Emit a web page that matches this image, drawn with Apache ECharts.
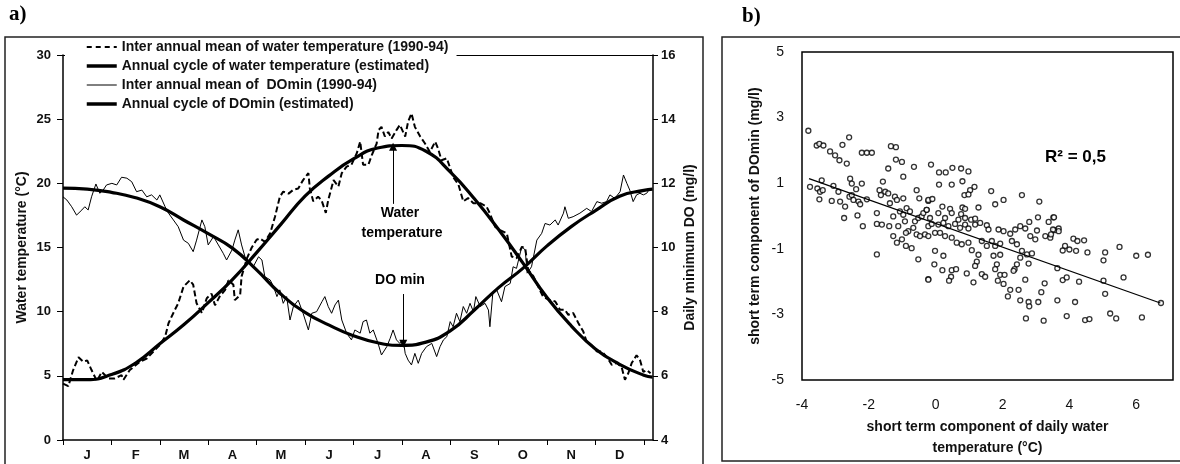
<!DOCTYPE html>
<html>
<head>
<meta charset="utf-8">
<script src="https://cdn.jsdelivr.net/npm/echarts@6/dist/echarts.min.js"></script>
<style>
  html, body { margin: 0; padding: 0; background: #fff; }
  #chart { width: 1180px; height: 464px; }
</style>
</head>
<body>
<div id="chart"></div>
<script>
// month letters, x is measured in months from 1 Jan
const months = ['J', 'F', 'M', 'A', 'M', 'J', 'J', 'A', 'S', 'O', 'N', 'D']
const monthTicks = [0, 1, 2, 3, 4, 5, 6, 7, 8, 9, 10, 11, 12]
const monthMids = [0.5, 1.5, 2.5, 3.5, 4.5, 5.5, 6.5, 7.5, 8.5, 9.5, 10.5, 11.5]

// inter annual mean of water temperature (dashed)
const tempMeanX = [0, 0.11, 0.21, 0.32, 0.42, 0.5, 0.59, 0.7, 0.8, 0.94, 1.07, 1.21, 1.25, 1.38, 1.59, 1.73, 1.87, 2, 2.11, 2.18,
  2.28, 2.38, 2.49, 2.62, 2.69, 2.76, 2.87, 2.97, 3.07, 3.14, 3.24, 3.35, 3.42, 3.52, 3.55, 3.66, 3.69, 3.8, 3.9, 4,
  4.07, 4.17, 4.28, 4.38, 4.48, 4.55, 4.66, 4.76, 4.86, 4.96, 5.07, 5.1, 5.17, 5.27, 5.34, 5.43, 5.48, 5.59, 5.69, 5.76,
  5.86, 5.96, 6.07, 6.14, 6.2, 6.31, 6.38, 6.48, 6.52, 6.58, 6.65, 6.72, 6.79, 6.89, 6.96, 7.07, 7.13, 7.2, 7.27, 7.38,
  7.48, 7.58, 7.69, 7.75, 7.82, 7.93, 8.06, 8.17, 8.27, 8.37, 8.48, 8.62, 8.75, 8.82, 8.93, 9.03, 9.17, 9.27, 9.37, 9.48,
  9.55, 9.61, 9.72, 9.82, 9.92, 10.06, 10.17, 10.27, 10.37, 10.44, 10.54, 10.65, 10.75, 10.82, 10.92, 11.03, 11.13, 11.23, 11.34, 11.44,
  11.54, 11.61, 11.68, 11.75, 11.85, 11.92, 11.99, 12.06, 12.14]
const tempMeanY = [4.4, 4.2, 5.45, 6.45, 6.1, 6.2, 5.45, 4.6, 5.3, 4.8, 4.8, 5.05, 4.7, 5.45, 6.1, 6.35, 6.9, 7.4, 8.05, 9.1,
  9.9, 10.65, 11.95, 12.45, 12.1, 10.65, 9.9, 11.05, 11.4, 10.5, 11.2, 11.7, 12.45, 12.1, 10.9, 11.3, 12.75, 14.15, 15.0, 15.6,
  15.7, 15.45, 16.1, 17.4, 18.95, 19.35, 19.2, 19.5, 19.6, 20.25, 20.8, 19.6, 18.6, 18.95, 18.7, 17.7, 18.7, 20.25, 19.75, 20.8,
  21.3, 21.45, 22.35, 23.25, 21.45, 21.45, 22.2, 23.1, 24.15, 24.4, 23.65, 24.0, 23.5, 24.15, 24.55, 23.65, 24.8, 25.45, 24.4, 23.65,
  23.1, 22.45, 23.25, 22.7, 21.8, 21.95, 20.5, 19.9, 18.6, 18.85, 18.45, 18.45, 18.2, 17.65, 16.6, 16.35, 16.1, 14.3, 14.15, 15.05,
  14.95, 13.25, 12.75, 11.95, 11.15, 10.9, 10.8, 10.15, 10.15, 9.75, 9.9, 9.1, 8.45, 7.65, 7.4, 6.9, 6.9, 6.5, 5.85, 6.0,
  5.7, 4.7, 5.2, 6.0, 6.6, 6.25, 5.3, 5.45, 5.2]

// inter annual mean of DOmin (thin)
const doMeanX = [0, 0.08, 0.18, 0.28, 0.39, 0.45, 0.52, 0.59, 0.68, 0.76, 0.83, 0.9, 1.01, 1.11, 1.21, 1.32, 1.42, 1.52, 1.63, 1.73,
  1.83, 1.94, 2, 2.11, 2.18, 2.28, 2.38, 2.49, 2.59, 2.69, 2.76, 2.87, 2.93, 3, 3.11, 3.21, 3.31, 3.38, 3.49, 3.55,
  3.62, 3.69, 3.76, 3.86, 3.93, 4.04, 4.11, 4.17, 4.28, 4.35, 4.42, 4.48, 4.55, 4.62, 4.69, 4.76, 4.86, 4.96, 5.07, 5.14,
  5.24, 5.35, 5.41, 5.48, 5.55, 5.62, 5.69, 5.76, 5.86, 5.96, 6.03, 6.14, 6.2, 6.27, 6.34, 6.41, 6.51, 6.58, 6.69, 6.76,
  6.82, 6.89, 6.96, 7.03, 7.07, 7.13, 7.2, 7.27, 7.34, 7.41, 7.51, 7.62, 7.72, 7.79, 7.86, 7.93, 8, 8.06, 8.13, 8.2,
  8.27, 8.34, 8.41, 8.48, 8.53, 8.62, 8.72, 8.79, 8.82, 8.88, 8.96, 9.06, 9.13, 9.24, 9.3, 9.37, 9.48, 9.55, 9.59, 9.68,
  9.79, 9.89, 9.96, 10.06, 10.17, 10.23, 10.34, 10.37, 10.44, 10.54, 10.68, 10.82, 10.92, 11.03, 11.13, 11.23, 11.3, 11.4, 11.51, 11.58,
  11.65, 11.71, 11.78, 11.85, 11.92, 11.99, 12.06, 12.13]
const doMeanY = [11.58, 11.48, 11.27, 11.01, 11.17, 11.27, 11.17, 11.58, 11.98, 11.69, 11.79, 11.95, 12.0, 11.95, 12.19, 12.16, 12.05, 11.74, 11.79, 11.58,
  11.64, 11.48, 11.64, 11.27, 11.07, 10.86, 10.65, 10.23, 10.13, 9.87, 10.23, 10.86, 10.65, 10.08, 10.34, 10.08, 9.82, 9.61, 9.92, 10.23,
  10.55, 10.08, 9.71, 9.55, 9.4, 9.71, 9.61, 9.09, 8.99, 8.78, 8.47, 8.68, 8.26, 8.47, 7.74, 8.16, 8.36, 7.95, 7.43, 7.95,
  8.0, 8.31, 8.47, 8.16, 7.95, 8.21, 8.36, 7.74, 7.33, 7.12, 7.43, 7.33, 7.69, 7.74, 7.33, 7.43, 7.01, 6.65, 6.91, 7.17,
  7.43, 7.12, 7.01, 7.12, 6.7, 6.49, 6.34, 6.7, 6.39, 6.7, 6.91, 7.01, 6.6, 6.91, 7.12, 7.22, 7.69, 7.53, 7.95, 7.69,
  8.16, 7.95, 8.26, 8.0, 8.47, 8.16, 8.26, 8.05, 7.53, 8.57, 8.68, 8.31, 8.78, 8.88, 9.4, 9.35, 10.03, 9.92, 9.2, 9.4,
  10.23, 10.44, 10.75, 10.7, 10.86, 10.7, 11.07, 11.27, 10.91, 10.96, 11.07, 11.22, 11.12, 11.43, 11.38, 11.43, 11.64, 11.53, 11.74, 12.26,
  12.0, 11.79, 11.43, 11.64, 11.69, 11.64, 11.69, 11.85]

// estimated annual cycles, read every half month
const cycleX = [0, 0.5, 1, 1.5, 2, 2.5, 3, 3.5, 4, 4.5, 5, 5.5, 6, 6.5, 7, 7.5, 8, 8.5, 9, 9.5, 10, 10.5, 11, 11.5, 12, 12.18]
const tempCycleY = [4.7, 4.7, 5.1, 6.0, 7.5, 9.0, 10.7, 12.5, 14.6, 16.8, 19.0, 20.6, 21.9, 22.75, 22.95, 22.5, 20.9, 18.8, 16.4, 13.8, 11.1, 8.9, 7.1, 5.9, 5.05, 4.9]
const doCycleY = [11.85, 11.82, 11.72, 11.55, 11.27, 10.85, 10.43, 9.98, 9.3, 8.55, 7.98, 7.58, 7.25, 7.03, 6.95, 7.05, 7.4, 8.05, 8.75, 9.35, 10.05, 10.65, 11.15, 11.6, 11.78, 11.82]

// arrows of the annotations (month, value)
const tempArrowX = [6.82, 6.82]
const tempArrowY = [18.4, 22.85]
const doArrowX = [7.03, 7.03]
const doArrowY = [8.55, 7.0]

// b) short term components: [water temperature (°C), DOmin (mg/l)]
const shortTerm = [
  [-3.81, 2.6], [-3.56, 2.15], [-3.48, 2.2], [-3.36, 2.15], [-3.16, 1.97], [-3.01, 1.85], [-2.88, 1.7], [-2.79, 2.17], [-2.66, 1.6], [-2.59, 2.4],
  [-2.21, 1.93], [-2.06, 1.93], [-1.91, 1.93], [-1.34, 2.13], [-1.19, 2.1], [-1.19, 1.72], [-1.01, 1.65], [-1.42, 1.45], [-0.65, 1.5], [-0.97, 1.2],
  [-3.76, 0.89], [-3.54, 0.84], [-3.46, 0.74], [-3.38, 0.79], [-3.41, 1.09], [-3.48, 0.51], [-3.11, 0.46], [-3.06, 0.92], [-2.86, 0.44], [-2.91, 0.74],
  [-2.71, 0.29], [-2.58, 0.59], [-2.51, 0.64], [-2.56, 1.14], [-2.51, 0.99], [-2.38, 0.82], [-2.21, 0.99], [-2.46, 0.49], [-2.31, 0.44], [-2.26, 0.36],
  [-2.74, -0.06], [-2.34, 0.02], [-2.18, -0.31], [-2.06, 0.51], [-1.76, 0.09], [-1.76, -0.24], [-1.61, -0.26], [-1.76, -1.17], [-1.58, 1.05], [-1.68, 0.79],
  [-1.51, 0.74], [-1.42, 0.69], [-1.64, 0.64], [-1.22, 0.59], [-1.16, 0.49], [-1.37, 0.39], [-0.97, 0.54], [-0.57, 0.79], [-0.49, 0.54], [-0.22, 0.46],
  [-0.87, 0.24], [-0.77, 0.14], [-1.07, 0.14], [-1.27, -0.01], [-1.12, -0.31], [-1.39, -0.31], [-0.97, 0.04], [-0.92, -0.16], [-0.62, -0.16], [-0.52, -0.06],
  [-0.42, -0.01], [-0.37, 0.09], [-0.27, 0.19], [-0.82, -0.46], [-0.89, -0.51], [-0.67, -0.36], [-0.57, -0.56], [-0.47, -0.61], [-0.32, -0.56], [-0.22, -0.31],
  [-1.27, -0.61], [-1.16, -0.81], [-1.01, -0.71], [-0.89, -0.91], [-0.72, -0.98], [-0.52, -1.32], [-0.22, -1.92],
  [-0.14, 1.57], [0.1, 1.33], [0.3, 1.33], [0.5, 1.47], [0.76, 1.45], [0.98, 1.36], [0.1, 0.96], [0.48, 0.96], [0.8, 1.06], [1.16, 0.89],
  [1.03, 0.79], [0.86, 0.64], [0.98, 0.66], [1.66, 0.76], [2.03, 0.49], [1.78, 0.36], [2.58, 0.64], [3.1, 0.44], [3.06, -0.04], [3.52, -0.04],
  [1.28, 0.26], [-0.22, 0.49], [-0.1, 0.52], [0.2, 0.29], [0.43, 0.22], [0.8, 0.26], [0.88, 0.22], [-0.27, 0.19], [0.08, 0.09], [0.48, 0.09],
  [0.76, 0.06], [0.28, -0.06], [-0.17, -0.06], [0.68, -0.11], [0.88, -0.06], [1.06, -0.11], [1.18, -0.08], [1.33, -0.21],
  [-0.12, -0.24], [0.08, -0.26], [0.23, -0.21], [0.38, -0.31], [0.58, -0.24], [0.73, -0.36], [0.88, -0.26], [0.98, -0.38], [1.18, -0.26], [1.53, -0.28],
  [1.58, -0.41], [1.88, -0.41], [2.03, -0.46], [2.23, -0.54], [2.38, -0.41], [2.53, -0.31], [2.68, -0.38], [2.83, -0.61], [2.98, -0.71], [3.28, -0.61],
  [3.43, -0.66], [-0.22, -0.61], [-0.02, -0.51], [0.13, -0.51], [0.28, -0.61], [0.48, -0.66], [0.63, -0.81], [0.78, -0.86], [0.98, -0.81], [1.38, -0.76],
  [1.53, -0.91], [1.68, -0.76], [1.78, -0.91], [1.93, -0.84], [2.28, -0.76], [2.43, -0.86], [2.58, -1.06], [2.73, -1.17], [2.88, -1.14], [2.53, -1.27],
  [2.43, -1.47], [2.36, -1.62], [2.33, -1.67], [2.78, -1.45], [-0.02, -1.06], [0.23, -1.21], [1.08, -1.04], [1.28, -1.18], [1.73, -1.21], [1.93, -1.18],
  [1.83, -1.47], [1.23, -1.39], [1.18, -1.52], [1.78, -1.62], [-0.04, -1.47], [0.2, -1.65], [0.48, -1.65], [0.61, -1.62], [0.46, -1.85], [0.4, -1.97],
  [0.93, -1.75], [1.38, -1.77], [1.48, -1.85], [-0.22, -1.94], [1.13, -2.02], [1.93, -1.79], [2.06, -1.79], [1.86, -1.97], [2.03, -2.07], [2.68, -1.94],
  [2.23, -2.25], [2.48, -2.25], [2.16, -2.45], [2.53, -2.57], [2.78, -2.62], [2.8, -2.75], [3.07, -2.62], [3.16, -2.32], [3.26, -2.05], [2.7, -3.12],
  [3.23, -3.19], [2.8, -0.18], [3.03, -0.44], [3.38, -0.18], [3.55, -0.43],
  [3.54, -0.04], [3.51, -0.41], [3.68, -0.38], [3.68, -0.46], [3.45, -0.56], [3.87, -0.91], [3.8, -1.05], [4.0, -1.02], [4.12, -0.69], [4.24, -0.76],
  [4.44, -0.74], [4.2, -1.06], [4.54, -1.11], [5.07, -1.11], [5.02, -1.35], [5.5, -0.94], [6.0, -1.21], [6.35, -1.18], [3.64, -1.59], [3.8, -1.95],
  [3.92, -1.87], [4.29, -2.0], [5.02, -1.97], [5.62, -1.87], [5.07, -2.37], [3.64, -2.57], [4.17, -2.62], [3.92, -3.05], [4.47, -3.17], [4.6, -3.14],
  [5.22, -2.97], [5.4, -3.12], [6.17, -3.09], [6.74, -2.65]
]
// regression line end points
const regX = [-3.79, 6.72]
const regY = [1.14, -2.65]

const names = [
  'Inter annual mean of water temperature (1990-94)',
  'Annual cycle of water temperature (estimated)',
  'Inter annual mean of  DOmin (1990-94)',
  'Annual cycle of DOmin (estimated)'
]

const FONT = '"Liberation Sans", Arial, sans-serif'
const SERIF = '"Liberation Serif", "DejaVu Serif", serif'
const zip = (xs, ys) => xs.map((x, i) => [x, ys[i]])
const boldLabel = size => ({ fontFamily: FONT, fontWeight: 'bold', fontSize: size, color: '#111' })
const blackLine = { lineStyle: { color: '#000', width: 1.5 } }

const chart = echarts.init(document.getElementById('chart'), null, { renderer: 'canvas' })

chart.setOption({
  animation: false,
  backgroundColor: '#fff',
  grid: [
    { left: 63, top: 55, width: 590, height: 385 },
    { left: 802, top: 52, width: 371, height: 332, show: true, borderColor: '#000', borderWidth: 1.5 }
  ],
  legend: {
    data: [
      { name: names[0], lineStyle: { width: 2, type: [5, 4] } },
      { name: names[1], lineStyle: { width: 3.5 } },
      { name: names[2], lineStyle: { width: 1 } },
      { name: names[3], lineStyle: { width: 3.5 } }
    ],
    orient: 'vertical',
    left: 65,
    top: 38,
    padding: [2, 8, 3, 20],
    itemGap: 5,
    itemWidth: 30,
    itemHeight: 14,
    backgroundColor: '#fff',
    selectedMode: false,
    itemStyle: { color: 'rgba(0,0,0,0)', borderWidth: 0, opacity: 0 },
    textStyle: boldLabel(14)
  },
  xAxis: [
    {
      type: 'value', gridIndex: 0, position: 'bottom', min: 0, max: 12.19,
      axisLine: { show: true, onZero: false, lineStyle: { color: '#000', width: 1.5 } },
      axisTick: { show: true, customValues: monthTicks, length: 5, lineStyle: { color: '#000' } },
      axisLabel: {
        customValues: monthMids, margin: 9, ...boldLabel(13),
        formatter: v => months[Math.floor(v)]
      },
      splitLine: { show: false }
    },
    {
      type: 'value', gridIndex: 0, position: 'top', min: 0, max: 12.19,
      axisLine: { show: true, onZero: false, lineStyle: { color: '#000', width: 1.2 } },
      axisTick: { show: false }, axisLabel: { show: false }, splitLine: { show: false }
    },
    {
      type: 'value', gridIndex: 1, min: -4, max: 7.1, interval: 2,
      axisLine: { show: false, onZero: false }, axisTick: { show: false },
      axisLabel: { margin: 18, showMaxLabel: false, fontFamily: FONT, fontSize: 14, color: '#111' },
      splitLine: { show: false },
      name: 'short term component of daily water\ntemperature (°C)',
      nameLocation: 'middle', nameGap: 36,
      nameTextStyle: { ...boldLabel(14), lineHeight: 21 }
    }
  ],
  yAxis: [
    {
      type: 'value', gridIndex: 0, position: 'left', min: 0, max: 30, interval: 5,
      axisLine: { show: true, onZero: false, ...blackLine },
      axisTick: { show: true, length: 6, lineStyle: { color: '#000' } },
      axisLabel: { margin: 12, ...boldLabel(13) },
      splitLine: { show: false },
      name: 'Water temperature (°C)', nameLocation: 'middle', nameGap: 34, nameRotate: 90,
      nameTextStyle: boldLabel(14)
    },
    {
      type: 'value', gridIndex: 0, position: 'right', min: 4, max: 16, interval: 2,
      axisLine: { show: true, onZero: false, ...blackLine },
      axisTick: { show: true, length: 5, lineStyle: { color: '#000' } },
      axisLabel: { margin: 8, ...boldLabel(13) },
      splitLine: { show: false },
      name: 'Daily minimum DO (mg/l)', nameLocation: 'middle', nameGap: 30, nameRotate: 90,
      nameTextStyle: boldLabel(14)
    },
    {
      type: 'value', gridIndex: 1, min: -5, max: 5, interval: 2,
      axisLine: { show: false, onZero: false }, axisTick: { show: false },
      axisLabel: { margin: 18, fontFamily: FONT, fontSize: 14, color: '#111' },
      splitLine: { show: false },
      name: 'short term component of DOmin (mg/l)', nameLocation: 'middle', nameGap: 40, nameRotate: 90,
      nameTextStyle: boldLabel(14)
    }
  ],
  series: [
    {
      name: names[0], type: 'line', xAxisIndex: 0, yAxisIndex: 0, symbol: 'none',
      data: zip(tempMeanX, tempMeanY),
      lineStyle: { color: '#000', width: 2, type: [6, 3] }, itemStyle: { color: '#000' }
    },
    {
      name: names[1], type: 'line', xAxisIndex: 0, yAxisIndex: 0, symbol: 'none', smooth: true,
      data: zip(cycleX, tempCycleY),
      lineStyle: { color: '#000', width: 3.2 }, itemStyle: { color: '#000' },
      markLine: {
        silent: true, symbol: ['none', 'triangle'], symbolSize: 8,
        label: { show: false },
        lineStyle: { color: '#000', width: 1, type: 'solid' },
        data: [[{ coord: [tempArrowX[0], tempArrowY[0]] }, { coord: [tempArrowX[1], tempArrowY[1]] }]]
      }
    },
    {
      name: names[2], type: 'line', xAxisIndex: 0, yAxisIndex: 1, symbol: 'none',
      data: zip(doMeanX, doMeanY),
      lineStyle: { color: '#000', width: 1 }, itemStyle: { color: '#000' }
    },
    {
      name: names[3], type: 'line', xAxisIndex: 0, yAxisIndex: 1, symbol: 'none', smooth: true,
      data: zip(cycleX, doCycleY),
      lineStyle: { color: '#000', width: 3.2 }, itemStyle: { color: '#000' },
      markLine: {
        silent: true, symbol: ['none', 'triangle'], symbolSize: 8,
        label: { show: false },
        lineStyle: { color: '#000', width: 1, type: 'solid' },
        data: [[{ coord: [doArrowX[0], doArrowY[0]] }, { coord: [doArrowX[1], doArrowY[1]] }]]
      }
    },
    {
      type: 'scatter', xAxisIndex: 2, yAxisIndex: 2, symbol: 'circle', symbolSize: 5,
      data: shortTerm,
      itemStyle: { color: '#fff', borderColor: '#000', borderWidth: 1.3 }
    },
    {
      type: 'line', xAxisIndex: 2, yAxisIndex: 2, symbol: 'none',
      data: zip(regX, regY),
      lineStyle: { color: '#000', width: 1.2 }
    }
  ],
  graphic: [
    { type: 'rect', shape: { x: 5, y: 37, width: 698, height: 440 }, style: { fill: 'none', stroke: '#222', lineWidth: 1.5 }, z: -1 },
    { type: 'rect', shape: { x: 722, y: 37, width: 470, height: 424 }, style: { fill: 'none', stroke: '#222', lineWidth: 1.5 }, z: -1 },
    { type: 'text', left: 9, top: 4, style: { text: 'a)', font: 'bold 21px ' + SERIF, fill: '#000' } },
    { type: 'text', left: 742, top: 6, style: { text: 'b)', font: 'bold 21px ' + SERIF, fill: '#000' } },
    { type: 'text', x: 400, y: 213, style: { text: 'Water', font: 'bold 14px ' + FONT, fill: '#000', align: 'center', verticalAlign: 'middle' } },
    { type: 'text', x: 402, y: 233, style: { text: 'temperature', font: 'bold 14px ' + FONT, fill: '#000', align: 'center', verticalAlign: 'middle' } },
    { type: 'text', x: 400, y: 280, style: { text: 'DO min', font: 'bold 14px ' + FONT, fill: '#000', align: 'center', verticalAlign: 'middle' } },
    { type: 'text', x: 1045, y: 157, style: { text: 'R² = 0,5', font: 'bold 17px ' + FONT, fill: '#000', verticalAlign: 'middle' } }
  ]
})
</script>
</body>
</html>
